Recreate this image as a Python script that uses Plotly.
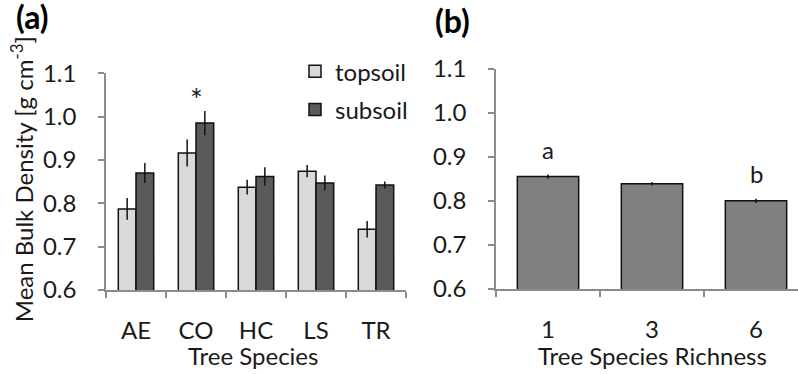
import plotly.graph_objects as go

# ---- data ----
species = ["AE", "CO", "HC", "LS", "TR"]
topsoil = [0.787, 0.916, 0.837, 0.874, 0.740]
topsoil_err = [0.025, 0.031, 0.017, 0.014, 0.019]
subsoil = [0.870, 0.985, 0.862, 0.847, 0.842]
subsoil_err = [0.023, 0.028, 0.021, 0.017, 0.008]
richness = ["1", "3", "6"]
richness_bd = [0.855, 0.839, 0.800]
richness_err = [0.005, 0.004, 0.005]
yticks = [0.6, 0.7, 0.8, 0.9, 1.0, 1.1]
ytick_labels = ["0.6", "0.7", "0.8", "0.9", "1.0", "1.1"]

W, H = 798, 374
FONT = "Lato"
TXT = "#1a1a1a"
AX = "#8c8c8c"
FS = 24


def px(x):
    return x / W


def py(y):
    return 1 - y / H


fig = go.Figure()

fig.add_trace(go.Bar(
    x=species, y=topsoil, name="topsoil",
    marker=dict(color="#d9d9d9", line=dict(color="#111111", width=1.5)),
    error_y=dict(type="data", array=topsoil_err, color="#111111", thickness=1.5, width=0),
    xaxis="x", yaxis="y", legendgroup="t",
))
fig.add_trace(go.Bar(
    x=species, y=subsoil, name="subsoil",
    marker=dict(color="#5a5a5a", line=dict(color="#111111", width=1.5)),
    error_y=dict(type="data", array=subsoil_err, color="#111111", thickness=1.5, width=0),
    xaxis="x", yaxis="y", legendgroup="s",
))
fig.add_trace(go.Bar(
    x=richness, y=richness_bd, name="richness", showlegend=False,
    marker=dict(color="#808080", line=dict(color="#111111", width=1.5)),
    error_y=dict(type="data", array=richness_err, color="#111111", thickness=1.5, width=0),
    xaxis="x2", yaxis="y2",
))

common_y = dict(
    range=[0.6, 1.1], tickvals=yticks, ticktext=ytick_labels,
    showline=True, linecolor=AX, linewidth=1.5,
    ticks="outside", ticklen=6, tickcolor=AX, tickwidth=1.5,
    showgrid=False, zeroline=False,
    tickfont=dict(family=FONT, size=FS, color=TXT),
    ticklabelstandoff=17,
)
common_x = dict(
    type="category",
    showline=True, linecolor=AX, linewidth=1.5,
    ticks="outside", ticklen=6, tickcolor=AX, tickwidth=1.5,
    tickson="boundaries", showgrid=False, zeroline=False,
    tickfont=dict(family=FONT, size=FS, color=TXT),
    ticklabelstandoff=18,
)

fig.update_layout(
    width=W, height=H,
    margin=dict(l=0, r=0, t=0, b=0),
    paper_bgcolor="white", plot_bgcolor="white",
    barmode="group", bargap=0.41, bargroupgap=0,
    xaxis=dict(common_x, domain=[px(106), px(406)], anchor="y"),
    yaxis=dict(common_y, domain=[py(297), py(62)], anchor="x"),
    xaxis2=dict(common_x, domain=[px(496), 1.0], anchor="y2",
                range=[-0.5, 2.5 - 10 / 104]),
    yaxis2=dict(common_y, domain=[py(296), py(57)], anchor="x2"),
    legend=dict(
        x=px(295), y=py(36), xanchor="left", yanchor="top",
        font=dict(family=FONT, size=FS, color=TXT),
        traceorder="grouped", tracegroupgap=4,
        bgcolor="rgba(0,0,0,0)",
    ),
    showlegend=True,
)


def ann(text, x, y, size, **kw):
    d = dict(text=text, x=x, y=y, xref="paper", yref="paper",
             xanchor="center", yanchor="middle", showarrow=False,
             font=dict(family=FONT, size=size, color=kw.pop("color", TXT),
                       weight=kw.pop("weight", "normal")))
    d.update(kw)
    return d


annotations = [
    ann("(a)", px(32), py(1), 32, color="#000000", weight="bold"),
    ann("(b)", px(452), py(5), 32, color="#000000", weight="bold"),
    ann("Mean Bulk Density [g cm<sup>-3</sup>]", px(22), py(177), 24, textangle=-90),
    ann("Tree Species", px(253), py(368), FS),
    ann("Tree Species Richness", px(652), py(368), FS),
    dict(text="*", x=1, y=subsoil[1] + subsoil_err[1], xref="x", yref="y",
         xanchor="center", yanchor="middle", yshift=12, showarrow=False,
         font=dict(family=FONT, size=30, color=TXT)),
    dict(text="a", x=0, y=richness_bd[0], xref="x2", yref="y2",
         xanchor="center", yanchor="middle", yshift=27, showarrow=False,
         font=dict(family=FONT, size=FS, color=TXT)),
    dict(text="b", x=2, y=richness_bd[2], xref="x2", yref="y2",
         xanchor="center", yanchor="middle", yshift=27, showarrow=False,
         font=dict(family=FONT, size=FS, color=TXT)),
]
fig.update_layout(annotations=annotations)

fig.write_html("out.html")
